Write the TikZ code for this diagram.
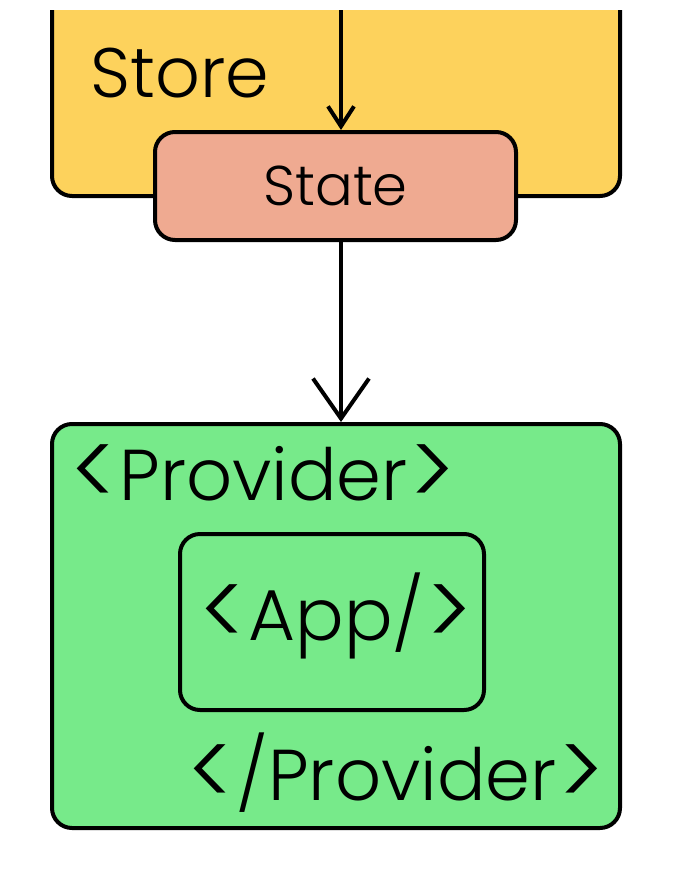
\documentclass[tikz,border=0pt]{standalone}
\usepackage{fontspec}
\setmainfont{Poppins Light}
\usetikzlibrary{arrows.meta}
\definecolor{storeyellow}{HTML}{FDD25C}
\definecolor{statesalmon}{HTML}{EFAA91}
\definecolor{providergreen}{HTML}{77EA8A}
\newcommand{\tagopen}{\raisebox{-0.1em}{\scalebox{1.3}[1.45]{<}}\kern0.03em}
\newcommand{\tagclose}{\kern0.03em\raisebox{-0.1em}{\scalebox{1.3}[1.45]{>}}}
\begin{document}
\begin{tikzpicture}[x=1pt,y=-1pt,
        box/.style={draw,line width=4pt,rounded corners=20pt,inner sep=0pt},
        tagtext/.style={font=\fontsize{72}{82}\selectfont,inner sep=0pt}]
    \useasboundingbox (0,0) rectangle (696,876);
    \begin{scope}
        \clip (0,10) rectangle (696,876);
        \node[box,fill=storeyellow,minimum width=568pt,minimum height=236pt] (Store) at (336,78) {};
    \end{scope}
    \node[anchor=base west,inner sep=0pt] (StoreLabel) at (90,97) {\fontsize{70}{80}\selectfont Store};
    \coordinate (In) at (341,10);
    \node[box,fill=statesalmon,minimum width=361pt,minimum height=108pt] (State) at (335.5,186) {\fontsize{56}{64}\selectfont State};
    \node[box,fill=providergreen,minimum width=568pt,minimum height=404pt] (Provider) at (336,626) {};
    \node[tagtext,anchor=base west] (Open) at (70,500) {\tagopen Provider\tagclose};
    \node[box,minimum width=304pt,minimum height=176pt] (App) at (332,622) {};
    \node[tagtext,anchor=base] (AppLabel) at (336,640) {\tagopen App/\tagclose};
    \node[tagtext,anchor=base east] (Close) at (605,800) {\tagopen/Provider\tagclose};

    \draw[line width=4pt,-{Straight Barb[length=20pt,width=26pt]}] (In) -- (In |- State.north);
    \draw[line width=4pt,-{Straight Barb[length=40pt,width=56pt]}] (State.south -| In) -- (In |- Provider.north);
\end{tikzpicture}
\end{document}
